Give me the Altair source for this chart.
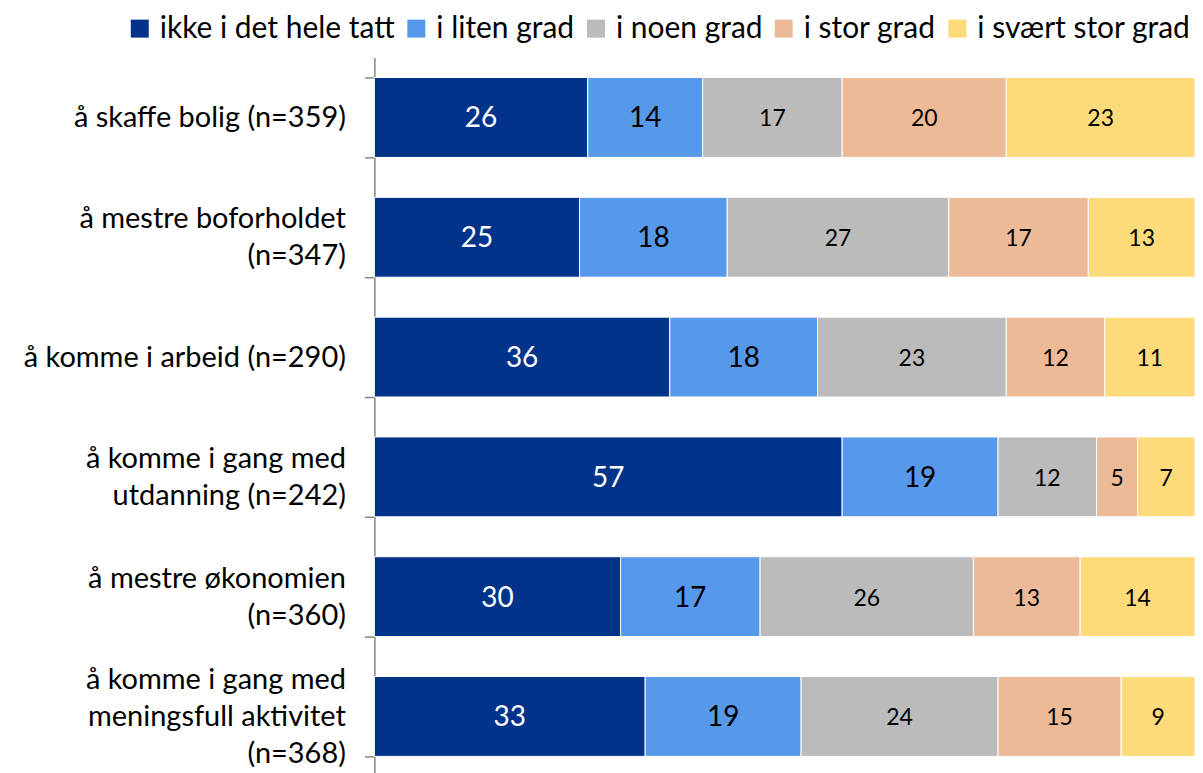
import altair as alt
import pandas as pd

categories = [
    "å skaffe bolig (n=359)",
    "å mestre boforholdet|(n=347)",
    "å komme i arbeid (n=290)",
    "å komme i gang med|utdanning (n=242)",
    "å mestre økonomien|(n=360)",
    "å komme i gang med|meningsfull aktivitet|(n=368)",
]
series = ["ikke i det hele tatt", "i liten grad", "i noen grad", "i stor grad", "i svært stor grad"]
colors = ["#02338A", "#5698EA", "#BBBBBB", "#EDBA98", "#FEDB7A"]

ikke = [26, 25, 36, 57, 30, 33]
liten = [14, 18, 18, 19, 17, 19]
noen = [17, 27, 23, 12, 26, 24]
stor = [20, 17, 12, 5, 13, 15]
svaert = [23, 13, 11, 7, 14, 9]

rows = []
for si, (name, vals) in enumerate(zip(series, [ikke, liten, noen, stor, svaert])):
    for ci, cat in enumerate(categories):
        rows.append({"cat": cat, "series": name, "value": vals[ci], "order": si})
df = pd.DataFrame(rows)

FONT = "Lato"
LINE_H = 37

base = alt.Chart(df)

y_enc = alt.Y(
    "cat:N",
    sort=categories,
    title=None,
    scale=alt.Scale(paddingInner=1 / 3, paddingOuter=1 / 6),
    axis=alt.Axis(
        labelExpr="split(datum.label, '|')",
        labelFont=FONT,
        labelFontSize=29,
        labelColor="black",
        labelPadding=19,
        labelLineHeight=LINE_H,
        labelOffset={
            "condition": [
                {"test": "length(split(datum.value, '|')) == 3", "value": -LINE_H},
                {"test": "length(split(datum.value, '|')) == 2", "value": -LINE_H / 2},
            ],
            "value": 0,
        },
        tickBand="extent",
        tickSize=10,
        tickColor="#868686",
        domainColor="#868686",
        domainWidth=1.5,
        tickWidth=1.5,
        grid=False,
        labelLimit=400,
    ),
)

bars = base.mark_bar(stroke="white", strokeWidth=1).encode(
    x=alt.X("value:Q", stack="zero", scale=alt.Scale(domain=[0, 100], nice=False), axis=None),
    y=y_enc,
    color=alt.Color(
        "series:N",
        scale=alt.Scale(domain=series, range=colors),
        sort=series,
        legend=alt.Legend(
            orient="none",
            direction="horizontal",
            columns=5,
            legendX=-250,
            legendY=-44,
            title=None,
            symbolType="square",
            symbolSize=324,
            symbolStrokeWidth=0,
            labelFont=FONT,
            labelFontSize=30,
            labelColor="black",
            labelOffset=5,
            columnPadding=6,
            padding=0,
            labelLimit=400,
        ),
    ),
    order=alt.Order("order:Q"),
)

stacked = base.transform_stack(
    stack="value", groupby=["cat"], as_=["x0", "x1"], sort=[alt.SortField("order")]
).transform_calculate(mid="(datum.x0 + datum.x1) / 2")

big = stacked.transform_filter("datum.order <= 1").mark_text(
    font=FONT, fontSize=28, baseline="middle", align="center", dy=2
).encode(
    x=alt.X("mid:Q"),
    y=alt.Y("cat:N", sort=categories),
    text="value:Q",
    color=alt.condition("datum.order == 0", alt.value("white"), alt.value("black")),
)

small = stacked.transform_filter("datum.order >= 2").mark_text(
    font=FONT, fontSize=23, baseline="middle", align="center", color="black", dy=2
).encode(
    x=alt.X("mid:Q"),
    y=alt.Y("cat:N", sort=categories),
    text="value:Q",
)

chart = alt.layer(bars, big, small).properties(
    width=822,
    height=720,
    autosize="none",
    padding={"left": 367, "top": 49, "right": 0, "bottom": 0},
).configure_view(stroke=None)

chart.save("out.html", embed_options={"renderer": "svg", "actions": False})
